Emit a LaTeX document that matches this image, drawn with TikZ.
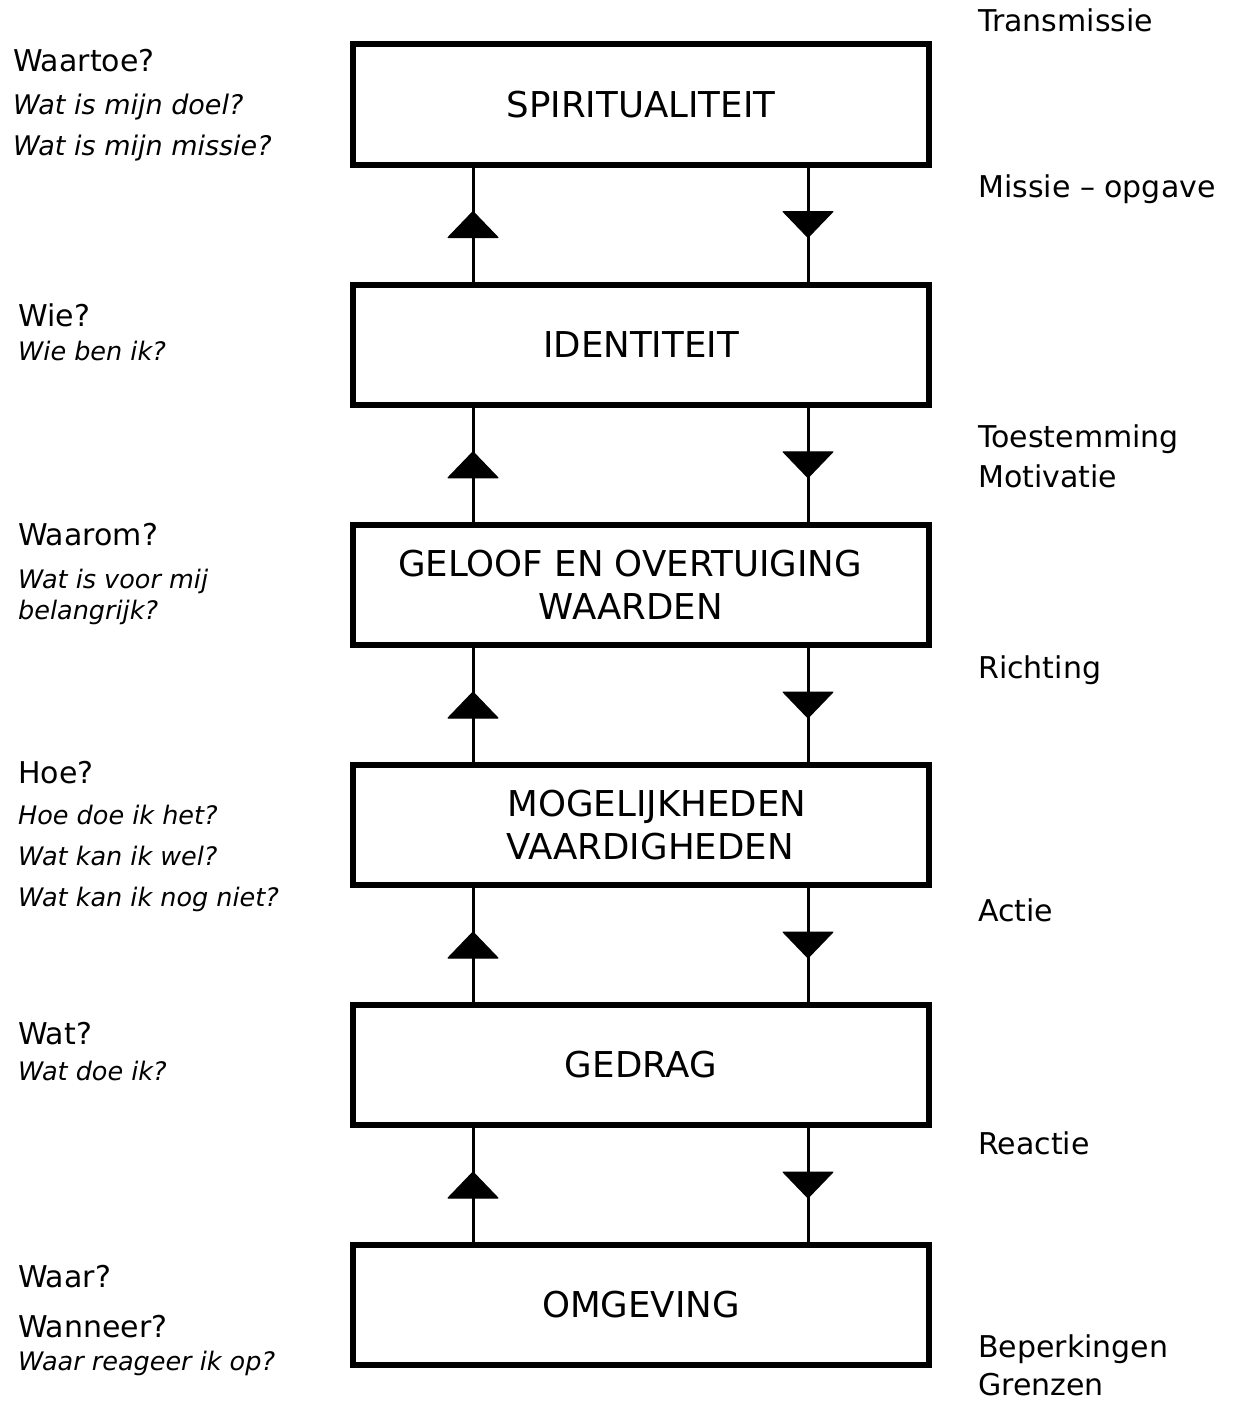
\documentclass[tikz,border=0pt]{standalone}
\usepackage{fontspec}
\setmainfont{DejaVu Sans}
\begin{document}
\begin{tikzpicture}[x=1pt,y=-1pt,
  box/.style={draw, line width=6pt, minimum width=576pt, minimum height=120pt,
    align=center, inner sep=0pt, font=\fontsize{35.6}{43}\selectfont},
  lbl/.style={anchor=base west, inner sep=0pt, font=\fontsize{30}{36}\selectfont},
  qst/.style={anchor=base west, inner sep=0pt, font=\fontsize{25.5}{31}\selectfont\itshape},
  qstb/.style={qst, font=\fontsize{27}{32}\selectfont\itshape},
  link/.style={line width=3pt},
  tri/.style={fill=black, draw=black, line width=1pt, line join=round}]
\useasboundingbox (0,0) rectangle (1236,1402);

% level boxes
\node[box] (spi) at (641,104.5) {SPIRITUALITEIT};
\node[box] (ide) at (641,344.5) {IDENTITEIT};
\node[box] (gel) at (641,585) {GELOOF EN OVERTUIGING\hspace*{22pt}\\WAARDEN\hspace*{20pt}};
\node[box] (mog) at (641,825) {\hspace*{32pt}MOGELIJKHEDEN\\\hspace*{18pt}VAARDIGHEDEN};
\node[box] (ged) at (641,1065) {GEDRAG};
\node[box] (omg) at (641,1305) {OMGEVING};

\coordinate (xl) at (473,0);
\coordinate (xr) at (808,0);

\foreach \a/\b [count=\i] in {spi/ide, ide/gel, gel/mog, mog/ged, ged/omg} {
  \draw[link] (\b.north -| xl) -- (\a.south -| xl) coordinate[midway] (ml\i);
  \draw[link] (\a.south -| xr) -- (\b.north -| xr) coordinate[midway] (mr\i);
  \filldraw[tri] (ml\i) ++(0,-13) -- ++(25,26) -- ++(-50,0) -- cycle;
  \filldraw[tri] (mr\i) ++(0,13) -- ++(25,-26) -- ++(-50,0) -- cycle;
}

% left column
\node[lbl] (q1) at (13,72) {Waartoe?};
\node[qstb] (q1a) at (13,114) {Wat is mijn doel?};
\node[qstb] (q1b) at (13,155) {Wat is mijn missie?};

\node[lbl] (q2) at (18,326) {Wie?};
\node[qst] (q2a) at (18,360) {Wie ben ik?};

\node[lbl] (q3) at (18,545) {Waarom?};
\node[qst] (q3a) at (18,588) {Wat is voor mij};
\node[qst] (q3b) at (18,619) {belangrijk?};

\node[lbl] (q4) at (18,783) {Hoe?};
\node[qst] (q4a) at (18,824) {Hoe doe ik het?};
\node[qst] (q4b) at (18,865) {Wat kan ik wel?};
\node[qst] (q4c) at (18,906) {Wat kan ik nog niet?};

\node[lbl] (q5) at (18,1044) {Wat?};
\node[qst] (q5a) at (18,1080) {Wat doe ik?};

\node[lbl] (q6) at (18,1287) {Waar?};
\node[lbl] (q6a) at (18,1337) {Wanneer?};
\node[qst] (q6b) at (18,1370) {Waar reageer ik op?};

% right column
\node[lbl] (r1) at (978,32) {Transmissie};
\node[lbl] (r2) at (978,197) {Missie – opgave};
\node[lbl] (r3) at (978,447) {Toestemming};
\node[lbl] (r4) at (978,487) {Motivatie};
\node[lbl] (r5) at (978,678) {Richting};
\node[lbl] (r6) at (978,921) {Actie};
\node[lbl] (r7) at (978,1154) {Reactie};
\node[lbl] (r8) at (978,1357) {Beperkingen};
\node[lbl] (r9) at (978,1395) {Grenzen};
\end{tikzpicture}
\end{document}
